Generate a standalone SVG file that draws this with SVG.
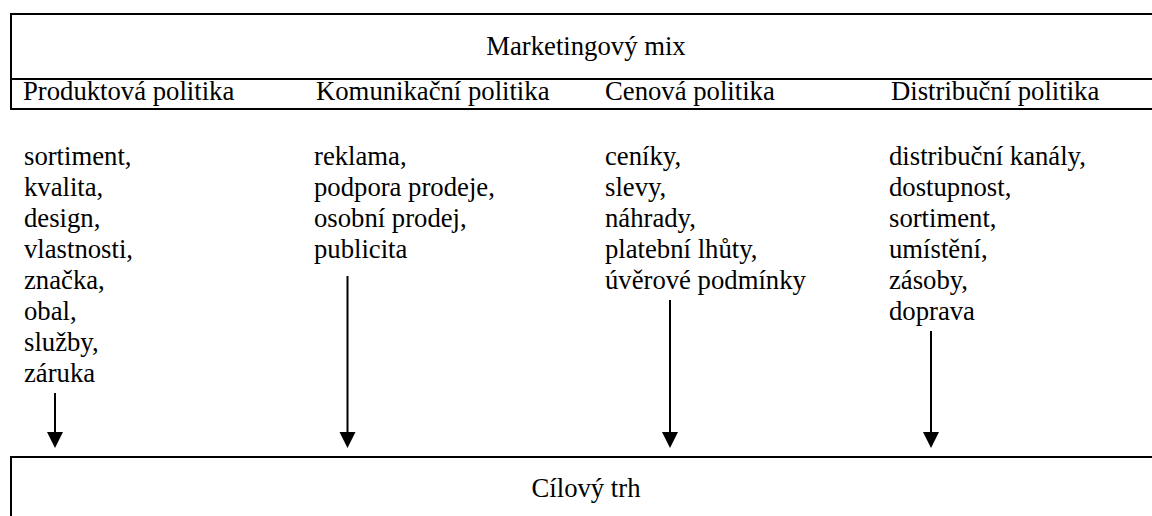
<svg xmlns="http://www.w3.org/2000/svg" width="1152" height="516" viewBox="0 0 1152 516">
  <style>
    .frame { fill: none; stroke: #000; stroke-width: 2; }
    text { font-family: 'Liberation Serif', 'DejaVu Serif', 'Noto Serif', serif; font-size: 26.7px; fill: #000; }
    .mid { text-anchor: middle; }
    .arrow { stroke: #000; stroke-width: 2; fill: none; }
    .head { fill: #000; }
  </style>

  <!-- Marketing mix header box with the four policies -->
  <g id="marketing-mix">
    <rect class="frame" x="11" y="14" width="1160" height="95"/>
    <line class="frame" x1="11" y1="79" x2="1171" y2="79"/>
    <text class="mid" x="586" y="55">Marketingový mix</text>
    <text x="23" y="100">Produktová politika</text>
    <text x="316" y="100">Komunikační politika</text>
    <text x="605" y="100">Cenová politika</text>
    <text x="891" y="100">Distribuční politika</text>
  </g>

  <!-- Product policy tools -->
  <g id="produkt">
    <text x="24" y="165">sortiment,</text>
    <text x="24" y="196">kvalita,</text>
    <text x="24" y="227">design,</text>
    <text x="24" y="258">vlastnosti,</text>
    <text x="24" y="289">značka,</text>
    <text x="24" y="320">obal,</text>
    <text x="24" y="351">služby,</text>
    <text x="24" y="382">záruka</text>
  </g>

  <!-- Communication policy tools -->
  <g id="komunikace">
    <text x="314" y="165">reklama,</text>
    <text x="314" y="196">podpora prodeje,</text>
    <text x="314" y="227">osobní prodej,</text>
    <text x="314" y="258">publicita</text>
  </g>

  <!-- Price policy tools -->
  <g id="cena">
    <text x="605" y="165">ceníky,</text>
    <text x="605" y="196">slevy,</text>
    <text x="605" y="227">náhrady,</text>
    <text x="605" y="258">platební lhůty,</text>
    <text x="605" y="289">úvěrové podmínky</text>
  </g>

  <!-- Distribution policy tools -->
  <g id="distribuce">
    <text x="889" y="165">distribuční kanály,</text>
    <text x="889" y="196">dostupnost,</text>
    <text x="889" y="227">sortiment,</text>
    <text x="889" y="258">umístění,</text>
    <text x="889" y="289">zásoby,</text>
    <text x="889" y="320">doprava</text>
  </g>

  <!-- Target market box -->
  <g id="cilovy-trh">
    <rect class="frame" x="11" y="457" width="1160" height="80"/>
    <text class="mid" x="586" y="497">Cílový trh</text>
  </g>

  <!-- Arrows from each policy down to the target market -->
  <g id="connectors">
    <line class="arrow" x1="55" y1="393" x2="55" y2="434"/>
    <polygon class="head" points="47,432 63,432 55,448"/>
    <line class="arrow" x1="347.5" y1="276" x2="347.5" y2="434"/>
    <polygon class="head" points="339.5,432 355.5,432 347.5,448"/>
    <line class="arrow" x1="670" y1="300" x2="670" y2="434"/>
    <polygon class="head" points="662,432 678,432 670,448"/>
    <line class="arrow" x1="931" y1="331" x2="931" y2="434"/>
    <polygon class="head" points="923,432 939,432 931,448"/>
  </g>
</svg>
